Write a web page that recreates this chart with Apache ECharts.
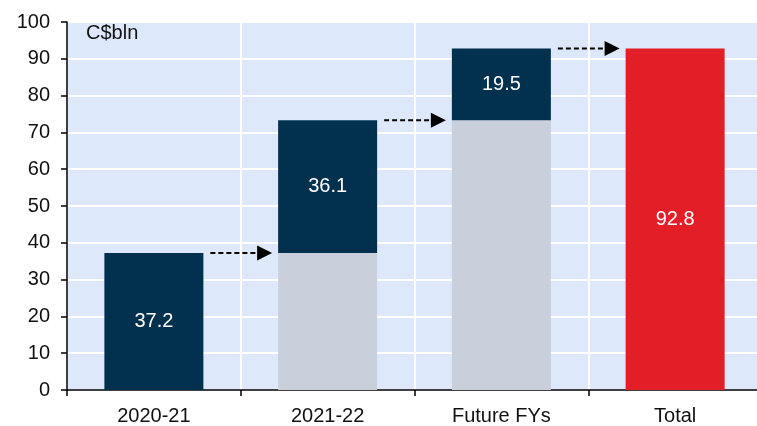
<!DOCTYPE html>
<html>
<head>
<meta charset="utf-8">
<script src="https://cdn.jsdelivr.net/npm/echarts@6/dist/echarts.min.js"></script>
<style>
  html, body { margin: 0; padding: 0; background: #fff; }
  #chart { width: 757px; height: 426px; }
</style>
</head>
<body>
<div id="chart"></div>
<script>
// waterfall: spending by fiscal year, C$bln
const categories = ['2020-21', '2021-22', 'Future FYs', 'Total'];
const baseValues = [0, 37.2, 73.3, 0];
const stepValues = [37.2, 36.1, 19.5, 92.8];
const arrowLevels = [[0, 37.2], [1, 73.3], [2, 92.8]];
const yTicks = { min: 0, max: 100, interval: 10 };

const NAVY = '#02314f';
const GREY = '#c9d0dc';
const RED = '#e31e26';
const FONT = 'Liberation Sans, Arial, sans-serif';
const BAR_W = 99;

const chart = echarts.init(document.getElementById('chart'));

chart.setOption({
  animation: false,
  backgroundColor: '#fff',
  textStyle: { fontFamily: FONT },
  grid: {
    left: 67, top: 22, height: 368, width: 695,
    outerBoundsMode: 'none', containLabel: false,
    show: true, backgroundColor: '#dde9fb', borderWidth: 0
  },
  graphic: [{
    type: 'text', left: 86, top: 23,
    style: { text: 'C$bln', font: '20px ' + FONT, fill: '#111' }
  }],
  xAxis: {
    type: 'category',
    data: categories,
    axisLine: { lineStyle: { color: '#000', width: 1.5 } },
    axisTick: { show: true, length: 6, lineStyle: { color: '#000', width: 1.5 } },
    axisLabel: { color: '#111', fontSize: 20, margin: 16, fontFamily: FONT },
    splitLine: { show: true, lineStyle: { color: '#fff', width: 2 } }
  },
  yAxis: {
    type: 'value',
    min: yTicks.min, max: yTicks.max, interval: yTicks.interval,
    axisLine: { show: true, lineStyle: { color: '#000', width: 1.5 } },
    axisTick: { show: true, length: 6, lineStyle: { color: '#000', width: 1.5 } },
    axisLabel: { color: '#111', fontSize: 20, margin: 17, fontFamily: FONT },
    splitLine: { show: true, lineStyle: { color: '#fff', width: 2 } }
  },
  series: [
    {
      name: 'Base',
      type: 'bar',
      stack: 'w',
      barWidth: BAR_W,
      data: baseValues.map((v, i) => ({
        value: v,
        itemStyle: { color: i === 0 ? 'transparent' : GREY }
      })),
      silent: true
    },
    {
      name: 'Step',
      type: 'bar',
      stack: 'w',
      barWidth: BAR_W,
      data: stepValues.map((v, i) => ({
        value: v,
        itemStyle: { color: i === categories.length - 1 ? RED : NAVY }
      })),
      label: {
        show: true, position: 'inside', color: '#fff',
        fontSize: 20, fontFamily: FONT,
        formatter: p => p.value.toFixed(1)
      }
    },
    {
      name: 'Arrows',
      type: 'custom',
      clip: false,
      data: arrowLevels,
      renderItem: function (params, api) {
        const i = api.value(0), v = api.value(1);
        const p0 = api.coord([i, v]);
        const p1 = api.coord([i + 1, v]);
        const x1 = p0[0] + BAR_W / 2 + 7;
        const x2 = p1[0] - BAR_W / 2 - 6;
        const y = p0[1];
        return {
          type: 'group',
          children: [
            {
              type: 'line',
              shape: { x1: x1, y1: y, x2: x2 - 14, y2: y },
              style: { stroke: '#000', lineWidth: 2, lineDash: [5, 3] }
            },
            {
              type: 'polygon',
              shape: { points: [[x2 - 15, y - 7.5], [x2, y], [x2 - 15, y + 7.5]] },
              style: { fill: '#000' }
            }
          ]
        };
      }
    }
  ]
});
</script>
</body>
</html>
